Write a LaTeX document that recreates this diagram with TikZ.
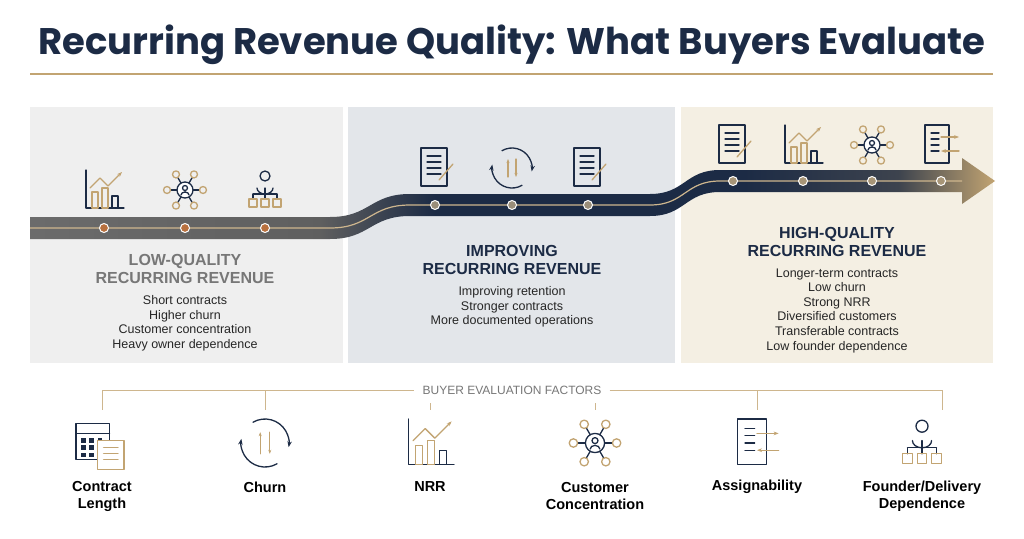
\documentclass[tikz,border=0pt]{standalone}
\usepackage{fontspec}
\setmainfont{Liberation Sans}
\newfontfamily\titlefont{Poppins}
\usetikzlibrary{arrows.meta}

\definecolor{navy}{HTML}{1C2B45}
\definecolor{gold}{HTML}{C2A472}
\definecolor{ltgray}{HTML}{EFEFEF}
\definecolor{midblue}{HTML}{E3E6EA}
\definecolor{cream}{HTML}{F4EFE3}
\definecolor{rust}{HTML}{B8703E}
\definecolor{txtgray}{HTML}{777777}

\pgfdeclarehorizontalshading{ribbonshade}{100bp}{color(0bp)=(txtgray!90!black); color(25bp)=(txtgray!90!black); color(40bp)=(txtgray!80!black); color(46bp)=(navy); color(62bp)=(navy); color(70bp)=(navy!80!gold); color(75bp)=(gold); color(100bp)=(gold)}

\tikzset{
  ico/.style={line width=1.3pt, line cap=round, line join=round},
  dot/.style={circle, draw=white, line width=1pt, fill=#1, minimum size=9pt, inner sep=0pt},
  head/.style={font=\bfseries\fontsize{16}{18}\selectfont, align=center},
  items/.style={font=\fontsize{12.5}{14.6}\selectfont, align=center, text=black!85},
  factor/.style={font=\bfseries\fontsize{14.5}{17}\selectfont, align=center},
  pics/chart/.style={code={
    \draw[ico,navy] (-18,-20) -- (-18,18) -- (20,18);
    \draw[ico,gold] (-12,18) rectangle (-6,2) (-2,18) rectangle (4,-2);
    \draw[ico,navy] (8,18) rectangle (14,6);
    \draw[ico,gold,-{Stealth[length=5pt]}] (-14,-2) -- (-4,-12) -- (4,-4) -- (18,-18);}},
  pics/doc/.style={code={
    \draw[ico,navy] (-14,-20) rectangle (12,18);
    \foreach \yy in {-12,-6,0,6} \draw[ico,navy] (-8,\yy) -- (6,\yy);
    \draw[ico,gold] (4,12) -- (18,-4);}},
  pics/network/.style={code={
    \foreach \a in {0,60,...,300} {
      \draw[ico,navy] (0,0) -- (\a:14);
      \draw[ico,gold] (\a:18) circle (3.5);}
    \draw[ico,navy,fill=white] (0,0) circle (8);
    \draw[ico,navy] (0,-2) circle (2.5) (-4,5) arc (180:360:4 and 3);}},
  pics/org/.style={code={
    \draw[ico,navy] (0,-14) circle (5) (-8,-2) arc (180:360:8 and -6);
    \draw[ico,navy] (0,-2) -- (0,4) (-12,4) -- (12,4) (-12,4) -- (-12,9) (12,4) -- (12,9) (0,4) -- (0,9);
    \foreach \xx in {-12,0,12} \draw[ico,gold] (\xx-4,9) rectangle (\xx+4,17);}},
  pics/cycle/.style={code={
    \draw[ico,navy,-{Stealth[length=6pt]}] (60:20) arc (60:190:20);
    \draw[ico,navy,-{Stealth[length=6pt]}] (240:20) arc (240:370:20);
    \draw[ico,gold,-{Stealth[length=4pt]}] (-4,9) -- (-4,-9);
    \draw[ico,gold,-{Stealth[length=4pt]}] (4,-9) -- (4,9);}},
  pics/calendar/.style={code={
    \draw[ico,navy] (-20,-16) rectangle (8,14) (-20,-8) -- (8,-8);
    \foreach \xx in {-14,-7,0} \foreach \yy in {-2,4,10} \fill[navy] (\xx-2,\yy-2) rectangle (\xx+2,\yy+2);
    \draw[ico,gold,fill=white] (-2,-2) rectangle (20,22);
    \foreach \yy in {4,9,14} \draw[ico,gold] (3,\yy) -- (15,\yy);}},
  pics/swap/.style={code={
    \draw[ico,navy] (-16,-20) rectangle (8,18);
    \foreach \yy in {-12,-6,0,6} \draw[ico,navy] (-10,\yy) -- (-2,\yy);
    \draw[ico,gold,-{Stealth[length=5pt]}] (0,-8) -- (18,-8);
    \draw[ico,gold,-{Stealth[length=5pt]}] (18,6) -- (0,6);}}
}

\begin{document}
\begin{tikzpicture}[x=1pt,y=-1pt]
\useasboundingbox (0,0) rectangle (1024,538);
\fill[white] (0,0) rectangle (1024,538);

% title
\node[font=\titlefont\bfseries\fontsize{37}{42}\selectfont, text=navy] (title) at (512,45) {Recurring Revenue Quality: What Buyers Evaluate};
\draw[gold, line width=2pt] (30,74) -- (993,74);

% panels
\fill[ltgray] (30,107) rectangle (343,363);
\fill[midblue] (348,107) rectangle (675,363);
\fill[cream] (681,107) rectangle (993,363);

% ribbon
\shade[shading=ribbonshade] (30,217) -- (330,217) .. controls (370,217) and (370,194) .. (410,194) -- (650,194) .. controls (685,194) and (685,170) .. (720,170) -- (962,170) -- (962,158) -- (995,181) -- (962,204) -- (962,192) -- (720,192) .. controls (685,192) and (685,216) .. (650,216) -- (410,216) .. controls (370,216) and (370,239) .. (330,239) -- (30,239) -- cycle;
\draw[gold!80!white, line width=1.2pt] (30,228) -- (330,228) .. controls (370,228) and (370,205) .. (410,205) -- (650,205) .. controls (685,205) and (685,181) .. (720,181) -- (962,181);

\foreach \xx/\nm in {104/l1,185/l2,265/l3} \node[dot=rust] (\nm) at (\xx,228) {};
\foreach \xx/\nm in {435/m1,512/m2,588/m3} \node[dot=gray!60!gold] (\nm) at (\xx,205) {};
\foreach \xx/\nm in {733/h1,803/h2,872/h3,941/h4} \node[dot=gray!40!gold] (\nm) at (\xx,181) {};

% stage icons
\pic at (104,190) {chart};
\pic at (185,190) {network};
\pic at (265,190) {org};
\pic at (435,168) {doc};
\pic at (512,168) {cycle};
\pic at (588,168) {doc};
\pic at (733,145) {doc};
\pic at (803,145) {chart};
\pic at (872,145) {network};
\pic at (941,145) {swap};

% stage texts
\node[head, text=txtgray] (lowhead) at (185,269) {LOW-QUALITY\\RECURRING REVENUE};
\node[items, anchor=north] (lowlist) at (185,292) {Short contracts\\Higher churn\\Customer concentration\\Heavy owner dependence};
\node[head, text=navy] (midhead) at (512,260) {IMPROVING\\RECURRING REVENUE};
\node[items, anchor=north] (midlist) at (512,283) {Improving retention\\Stronger contracts\\More documented operations};
\node[head, text=navy] (highhead) at (837,242) {HIGH-QUALITY\\RECURRING REVENUE};
\node[items, anchor=north] (highlist) at (837,265) {Longer-term contracts\\Low churn\\Strong NRR\\Diversified customers\\Transferable contracts\\Low founder dependence};

% factors
\node[font=\fontsize{12}{14}\selectfont, text=txtgray, fill=white, inner xsep=8pt] (bef) at (512,390) {BUYER EVALUATION FACTORS};
\coordinate (barl) at (102,390);
\coordinate (barr) at (942,390);
\draw[gold!80!white, line width=1pt] (barl) -- (bef.west) (bef.east) -- (barr);
\foreach \xx in {102,265,757,942} \draw[gold!80!white, line width=1pt] (\xx,390) -- (\xx,410);
\draw[gold!80!white, line width=1pt] (430,403) -- (430,410);
\draw[gold!80!white, line width=1pt] (595,403) -- (595,410);

\pic[scale=1.2] at (100,443) {calendar};
\pic[scale=1.2] at (265,443) {cycle};
\pic[scale=1.2] at (430,443) {chart};
\pic[scale=1.2] at (595,443) {network};
\pic[scale=1.2] at (757,443) {swap};
\pic[scale=1.2] at (922,443) {org};

\node[factor] (f1) at (102,496) {Contract\\Length};
\node[factor] (f2) at (265,487) {Churn};
\node[factor] (f3) at (430,487) {NRR};
\node[factor] (f4) at (595,496) {Customer\\Concentration};
\node[factor] (f5) at (757,487) {Assignability};
\node[factor] (f6) at (922,496) {Founder/Delivery\\Dependence};
\end{tikzpicture}
\end{document}
